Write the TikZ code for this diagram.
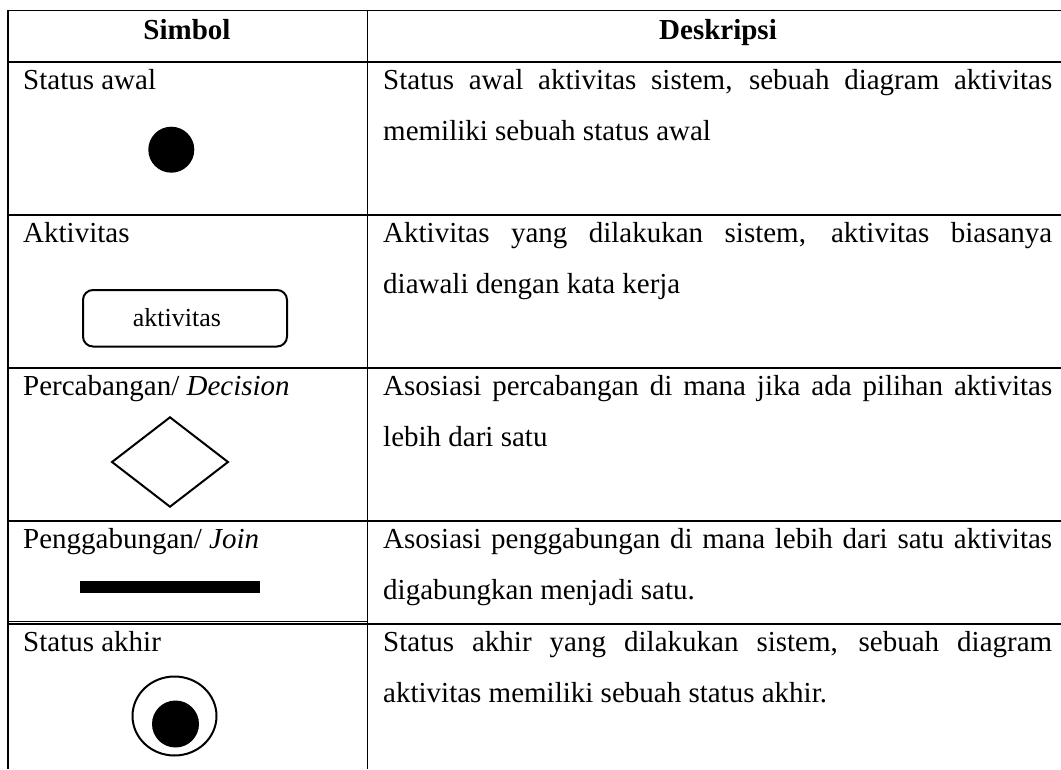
\documentclass[tikz,border=0pt]{standalone}
\usepackage{fontspec}
\setmainfont{Liberation Serif}
\begin{document}
\begin{tikzpicture}[x=1pt,y=-1pt,
  rule/.style={line width=1.3pt},
  cell/.style={font=\fontsize{29}{35}\selectfont, inner sep=0pt, anchor=base west},
  head/.style={font=\fontsize{29}{35}\selectfont\bfseries, inner sep=0pt, anchor=base},
  symline/.style={line width=2pt},
  symtext/.style={font=\fontsize{26}{30}\selectfont, inner sep=0pt, anchor=base}]
\useasboundingbox (0,0) rectangle (1061,769);

% table rules
\draw[rule] (8,10.3) -- (1061,10.3);
\draw[rule] (8,62) -- (1061,62);
\draw[rule] (8,215) -- (1061,215);
\draw[rule] (8,368) -- (1061,368);
\draw[rule] (8,521) -- (1061,521);
\draw[line width=1pt] (8,621.3) -- (368,621.3);
\draw[rule] (8,624) -- (1061,624);
\draw[rule] (8,10.3) -- (8,769);
\draw[rule] (367.7,10.3) -- (367.7,769);

% header
\node[head] (hsym) at (187,39) {Simbol};
\node[head] (hdesc) at (718,39) {Deskripsi};

% left column labels
\node[cell] (l1) at (23,89.5) {Status awal};
\node[cell] (l2) at (23,242.5) {Aktivitas};
\node[cell] (l3) at (23,395.5) {Percabangan/ \textit{Decision}};
\node[cell] (l4) at (23,548.5) {Penggabungan/ \textit{Join}};
\node[cell] (l5) at (23,651.5) {Status akhir};

% symbols
\fill (171.3,149.7) circle (23);
\draw[symline, rounded corners=10pt] (83,290) rectangle (287,346.5);
\node[symtext] (act) at (177,326.5) {aktivitas};
\draw[symline, line join=miter] (112,462) -- (170,417.3) -- (228,462) -- (170,506.7) -- cycle;
\fill (80,581) rectangle (260,593);
\draw[symline] (174.5,716) ellipse [x radius=42, y radius=39.5];
\fill (175.5,724) circle (23.5);

% descriptions
\node[cell] (d1a) at (383,89.5) {\makebox[669pt][s]{Status awal aktivitas sistem, sebuah diagram aktivitas}};
\node[cell] (d1b) at (383,140.9) {memiliki sebuah status awal};
\node[cell] (d2a) at (383,242.5) {\makebox[669pt][s]{Aktivitas yang dilakukan sistem, aktivitas biasanya}};
\node[cell] (d2b) at (383,293.9) {diawali dengan kata kerja};
\node[cell] (d3a) at (383,395.5) {\makebox[669pt][s]{Asosiasi percabangan di mana jika ada pilihan aktivitas}};
\node[cell] (d3b) at (383,446.9) {lebih dari satu};
\node[cell] (d4a) at (383,548.5) {\makebox[669pt][s]{Asosiasi penggabungan di mana lebih dari satu aktivitas}};
\node[cell] (d4b) at (383,599.9) {digabungkan menjadi satu.};
\node[cell] (d5a) at (383,651.5) {\makebox[669pt][s]{Status akhir yang dilakukan sistem, sebuah diagram}};
\node[cell] (d5b) at (383,702.9) {aktivitas memiliki sebuah status akhir.};
\end{tikzpicture}
\end{document}
